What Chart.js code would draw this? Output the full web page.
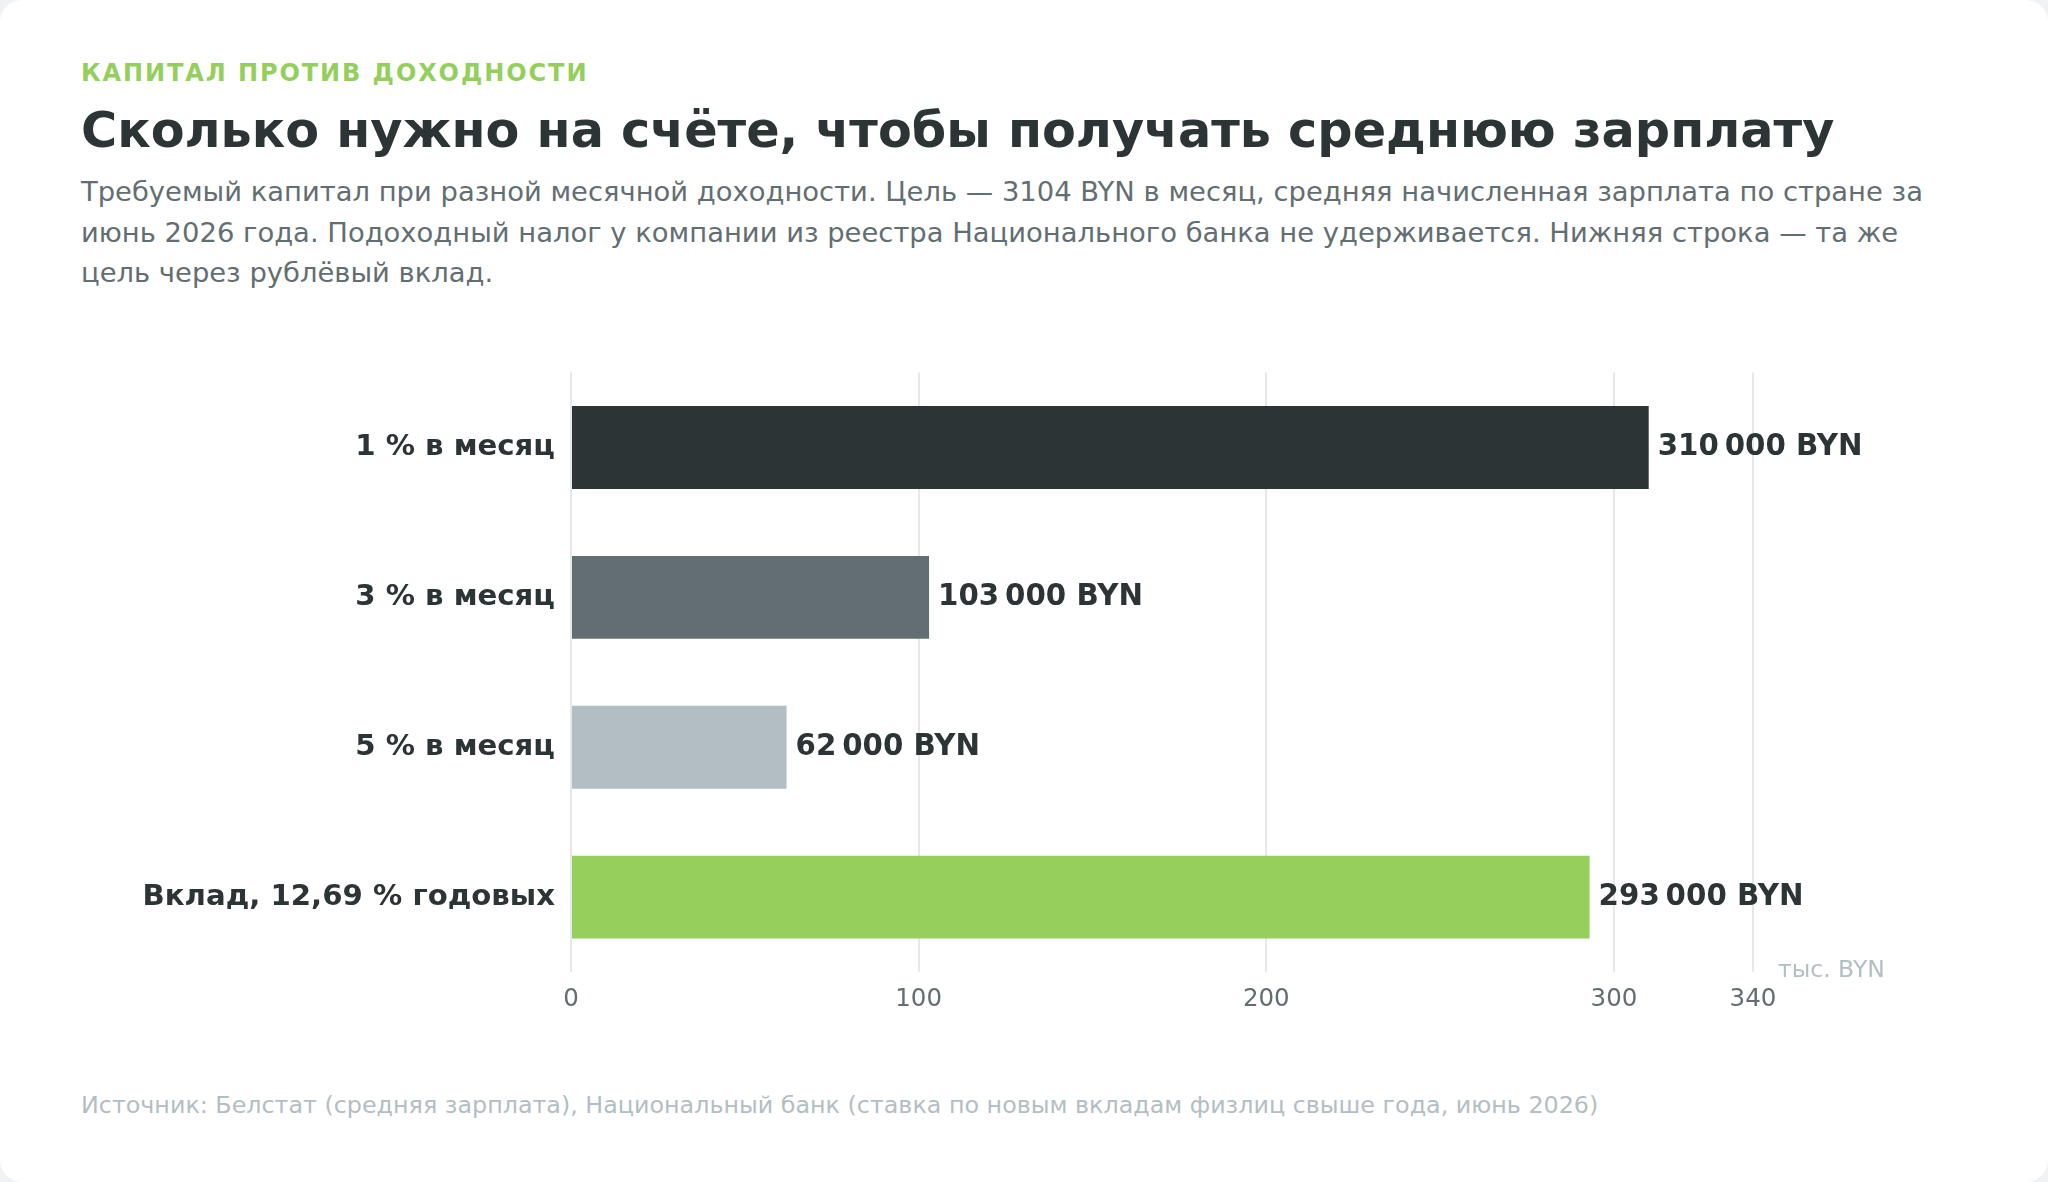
<!DOCTYPE html>
<html lang="ru">
<head>
<meta charset="utf-8">
<title>Капитал против доходности</title>
<script src="https://cdn.jsdelivr.net/npm/chart.js@4.4.1/dist/chart.umd.min.js"></script>
<style>
  html, body { margin: 0; padding: 0; }
  body {
    width: 2048px; height: 1182px; overflow: hidden;
    background: #f1f2f3;
    font-family: "DejaVu Sans", sans-serif;
  }
  .card {
    position: absolute; left: 0; top: 0; width: 2048px; height: 1182px;
    background: #fff; border-radius: 22px;
  }
  .kicker {
    position: absolute; left: 81px; top: 58px;
    font-size: 24px; font-weight: bold; letter-spacing: 0.08em;
    color: #94cf5c; line-height: 30px;
  }
  h1 {
    position: absolute; left: 81px; top: 100px; margin: 0;
    font-size: 49.3px; font-weight: bold; color: #2d3436; line-height: 60px;
  }
  .sub {
    position: absolute; left: 81px; top: 172px; width: 1870px; margin: 0;
    font-size: 27.4px; line-height: 40.5px; color: #636e72;
  }
  .wrap { position: absolute; left: 0; top: 339px; width: 2048px; height: 720px; }
  .source {
    position: absolute; left: 81px; top: 1090px;
    font-size: 23.8px; color: #b2bec3; line-height: 30px;
  }
</style>
</head>
<body>
<div class="card">
  <div class="kicker">КАПИТАЛ ПРОТИВ ДОХОДНОСТИ</div>
  <h1>Сколько нужно на счёте, чтобы получать среднюю зарплату</h1>
  <p class="sub">Требуемый капитал при разной месячной доходности. Цель — 3104 BYN в месяц, средняя начисленная зарплата по стране за июнь 2026 года. Подоходный налог у компании из реестра Национального банка не удерживается. Нижняя строка — та же цель через рублёвый вклад.</p>
  <div class="wrap"><canvas id="chart"></canvas></div>
  <div class="source">Источник: Белстат (средняя зарплата), Национальный банк (ставка по новым вкладам физлиц свыше года, июнь 2026)</div>
</div>
<script>
// данные, тыс. BYN
const categories = ['1 % в месяц', '3 % в месяц', '5 % в месяц', 'Вклад, 12,69 % годовых'];
const capital = [310, 103, 62, 293];
const barColors = ['#2d3436', '#636e72', '#b2bec3', '#97cf5d'];
const xTicks = [0, 100, 200, 300, 340];
const unitLabel = 'тыс. BYN';

const fontFamily = '"DejaVu Sans", sans-serif';

function fmtByn(v) {
  const s = String(v * 1000);
  return s.replace(/\B(?=(\d{3})+(?!\d))/g, '\u202F') + ' BYN';
}

// подписи значений справа от столбцов + подпись единиц
const barLabels = {
  id: 'barLabels',
  afterDatasetsDraw(chart) {
    const ctx = chart.ctx;
    const meta = chart.getDatasetMeta(0);
    ctx.save();
    ctx.font = 'bold 29.3px ' + fontFamily;
    ctx.fillStyle = '#2d3436';
    ctx.textBaseline = 'middle';
    ctx.textAlign = 'left';
    meta.data.forEach((bar, i) => {
      ctx.fillText(fmtByn(capital[i]), bar.x + 9, bar.y);
    });
    const area = chart.chartArea;
    ctx.font = '23.5px ' + fontFamily;
    ctx.fillStyle = '#b2bec3';
    ctx.textBaseline = 'alphabetic';
    ctx.fillText(unitLabel, area.right + 25, area.bottom + 5);
    ctx.restore();
  }
};

new Chart(document.getElementById('chart'), {
  type: 'bar',
  data: {
    labels: categories,
    datasets: [{
      data: capital,
      backgroundColor: barColors,
      borderWidth: 0,
      barPercentage: 0.553,
      categoryPercentage: 1
    }]
  },
  options: {
    indexAxis: 'y',
    responsive: true,
    maintainAspectRatio: false,
    animation: false,
    layout: { padding: { left: 0, right: 295, top: 31, bottom: 27 } },
    plugins: { legend: { display: false }, tooltip: { enabled: false } },
    scales: {
      x: {
        min: 0,
        max: 340,
        afterBuildTicks(scale) { scale.ticks = xTicks.map(v => ({ value: v })); },
        afterFit(scale) { scale.height = 60; },
        grid: { color: '#e4e9ec', lineWidth: 2, drawTicks: false },
        border: { display: false },
        ticks: {
          padding: 13,
          color: '#636e72',
          font: { family: fontFamily, size: 24.5 }
        }
      },
      y: {
        afterFit(scale) { scale.width = 571; },
        grid: { display: false, drawTicks: false },
        border: { display: false },
        ticks: {
          padding: 16,
          color: '#2d3436',
          font: { family: fontFamily, size: 29.2, weight: 'bold' }
        }
      }
    }
  },
  plugins: [barLabels]
});
</script>
</body>
</html>
